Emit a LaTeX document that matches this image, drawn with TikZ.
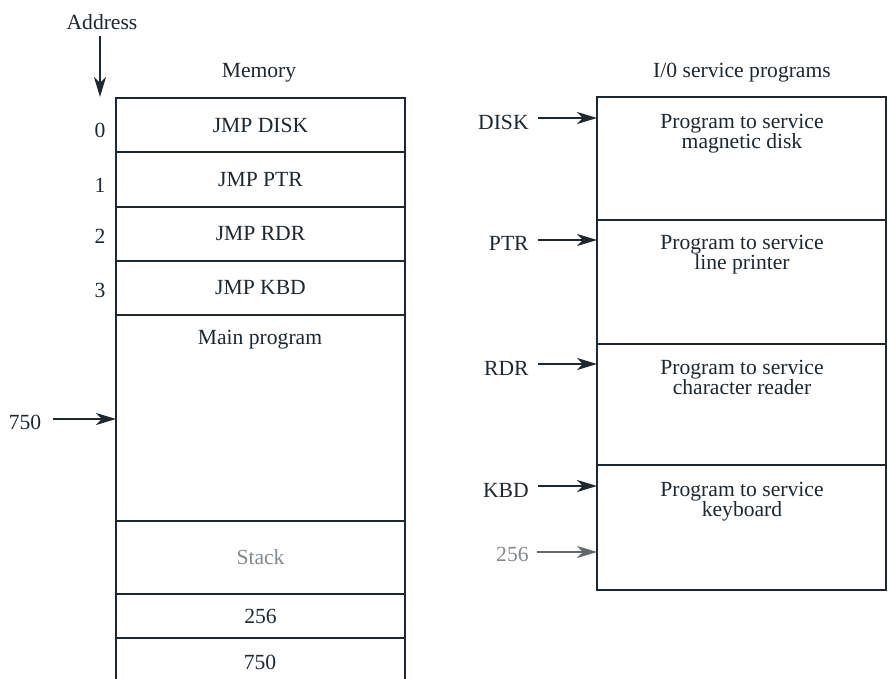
\documentclass[tikz,border=0pt]{standalone}
\usepackage{fontspec}
\setmainfont{Liberation Serif}
\usetikzlibrary{arrows.meta}
\definecolor{ink}{RGB}{30,40,48}
\newcommand\txt{\fontsize{10.8}{10}\selectfont\lineskiplimit=-\maxdimen}
\tikzset{
  cell/.style={draw=ink, line width=1pt, minimum width=144.5pt, inner sep=0pt,
               outer sep=0pt, anchor=north west, font=\txt, text=ink},
  lbl/.style={font=\txt, inner sep=0pt, text=ink},
  arr/.style={draw=ink, line width=1pt, -{Stealth[length=10pt,width=6pt,inset=3pt]}},
  faint/.style={text=ink!55},
}
\begin{document}
\begin{tikzpicture}[x=0.5pt,y=-0.5pt]
\useasboundingbox (0,0) rectangle (888,679);
\fill[white] (0,0) rectangle (888,679);

% ---- Memory column ----
\node[lbl] (addr) at (102,22) {Address};
\coordinate (atop) at (100,97);
\coordinate (astart) at (100,36);
\draw[arr] (astart) -- (atop);

\node[lbl] (memt) at (259,73) {Memory};

\node[cell, minimum height=27pt]   (m0) at (116,98)  {JMP DISK};
\node[cell, minimum height=27.5pt] (m1) at (116,152) {JMP PTR};
\node[cell, minimum height=27pt]   (m2) at (116,207) {JMP RDR};
\node[cell, minimum height=27pt]   (m3) at (116,261) {JMP KBD};
\node[cell, minimum height=103pt]  (mm) at (116,315) {};
\node[cell, minimum height=36.5pt, faint] (ms) at (116,521) {Stack};
\node[cell, minimum height=22pt]   (m256) at (116,594) {256};
\coordinate (m7l) at (116,679);
\coordinate (m7r) at (405,679);
\draw[ink, line width=1pt] (m256.south west) -- (m7l);
\draw[ink, line width=1pt] (m256.south east) -- (m7r);
\node[lbl] (m750) at (260,662) {750};

\node[lbl] (mmt) at (260,340) {Main program};

\node[lbl] (a0) at (100,130) {0};
\node[lbl] (a1) at (100,185) {1};
\node[lbl] (a2) at (100,236) {2};
\node[lbl] (a3) at (100,290) {3};

\node[lbl] (n750) at (25,422) {750};
\coordinate (p750) at (116,419);
\draw[arr, shorten <=5.5pt] (n750.east |- p750) -- (p750);

% ---- I/O service programs ----
\node[lbl] (iot) at (742,73) {I/0 service programs};

\node[cell, minimum height=61.5pt] (s1) at (597,97)  {};
\node[cell, minimum height=62pt]   (s2) at (597,220) {};
\node[cell, minimum height=60.5pt] (s3) at (597,344) {};
\node[cell, minimum height=62.5pt] (s4) at (597,465) {};

\node[lbl, align=center, anchor=north] (t1) at (742,114) {Program to service\\magnetic disk};
\node[lbl, align=center, anchor=north] (t2) at (742,235) {Program to service\\line printer};
\node[lbl, align=center, anchor=north] (t3) at (742,360) {Program to service\\character reader};
\node[lbl, align=center, anchor=north] (t4) at (742,482) {Program to service\\keyboard};

\node[lbl, anchor=east] (lD) at (529,122) {DISK};
\node[lbl, anchor=east] (lP) at (529,243) {PTR};
\node[lbl, anchor=east] (lR) at (529,368) {RDR};
\node[lbl, anchor=east] (lK) at (529,490) {KBD};
\node[lbl, anchor=east, faint] (l256) at (529,554) {256};

\coordinate (pD) at (597,118);
\coordinate (pP) at (597,240);
\coordinate (pR) at (597,364);
\coordinate (pK) at (597,486);
\coordinate (p256) at (597,552);
\draw[arr, shorten <=4.5pt] (lD.east |- pD) -- (pD);
\draw[arr, shorten <=4.5pt] (lP.east |- pP) -- (pP);
\draw[arr, shorten <=4.5pt] (lR.east |- pR) -- (pR);
\draw[arr, shorten <=4.5pt] (lK.east |- pK) -- (pK);
\draw[arr, draw=ink!70, line width=0.6pt, shorten <=4pt] (l256.east |- p256) -- (p256);
\end{tikzpicture}
\end{document}
